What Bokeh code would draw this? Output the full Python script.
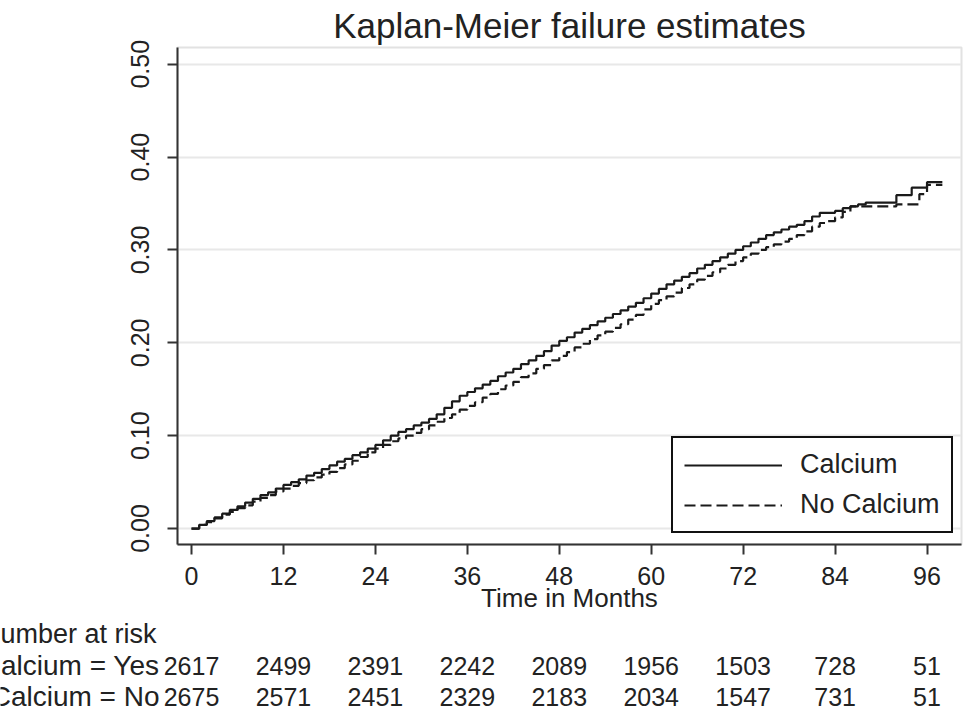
from bokeh.plotting import figure
from bokeh.models import Range1d, FixedTicker, Legend, LegendItem
from bokeh.core.properties import value
from bokeh.embed import file_html
from bokeh.resources import INLINE

# ---------------- data ----------------
months = list(range(0, 99))
calcium = [
    0.000, 0.004, 0.008, 0.012, 0.016, 0.020, 0.024, 0.028, 0.032, 0.036,
    0.039, 0.043, 0.047, 0.050, 0.053, 0.057, 0.060, 0.064, 0.068, 0.072,
    0.075, 0.079, 0.082, 0.086, 0.090, 0.095, 0.100, 0.104, 0.107, 0.111,
    0.114, 0.118, 0.123, 0.130, 0.137, 0.143, 0.147, 0.151, 0.155, 0.159,
    0.164, 0.168, 0.172, 0.177, 0.181, 0.186, 0.191, 0.197, 0.202, 0.206,
    0.211, 0.215, 0.219, 0.223, 0.227, 0.231, 0.235, 0.239, 0.243, 0.248,
    0.253, 0.258, 0.263, 0.267, 0.271, 0.275, 0.280, 0.284, 0.288, 0.292,
    0.296, 0.300, 0.304, 0.308, 0.312, 0.316, 0.319, 0.322, 0.325, 0.327,
    0.331, 0.336, 0.340, 0.340, 0.342, 0.345, 0.347, 0.349, 0.351, 0.351,
    0.351, 0.351, 0.359, 0.359, 0.367, 0.367, 0.373, 0.373, 0.373,
]
no_calcium = [
    0.000, 0.004, 0.007, 0.011, 0.015, 0.018, 0.022, 0.025, 0.029, 0.033,
    0.036, 0.040, 0.043, 0.046, 0.049, 0.052, 0.055, 0.058, 0.061, 0.065,
    0.069, 0.073, 0.077, 0.082, 0.086, 0.090, 0.094, 0.097, 0.100, 0.103,
    0.107, 0.111, 0.115, 0.119, 0.123, 0.128, 0.132, 0.136, 0.141, 0.145,
    0.150, 0.154, 0.158, 0.163, 0.167, 0.172, 0.176, 0.181, 0.186, 0.190,
    0.195, 0.199, 0.204, 0.208, 0.212, 0.216, 0.220, 0.225, 0.230, 0.236,
    0.242, 0.246, 0.250, 0.254, 0.259, 0.263, 0.268, 0.272, 0.276, 0.280,
    0.284, 0.288, 0.292, 0.296, 0.300, 0.303, 0.306, 0.309, 0.312, 0.316,
    0.320, 0.325, 0.329, 0.331, 0.335, 0.341, 0.347, 0.347, 0.347, 0.347,
    0.347, 0.347, 0.349, 0.349, 0.349, 0.360, 0.370, 0.370, 0.370,
]
x_ticks = [0, 12, 24, 36, 48, 60, 72, 84, 96]
y_ticks = [0.0, 0.1, 0.2, 0.3, 0.4, 0.5]
y_tick_labels = ["0.00", "0.10", "0.20", "0.30", "0.40", "0.50"]
risk_times = [0, 12, 24, 36, 48, 60, 72, 84, 96]
risk_yes = [2617, 2499, 2391, 2242, 2089, 1956, 1503, 728, 51]
risk_no = [2675, 2571, 2451, 2329, 2183, 2034, 1547, 731, 51]
series_names = ["Calcium", "No Calcium"]
risk_title = "Number at risk"
row_labels = ["Calcium = Yes", "Calcium = No"]

FONT = "Liberation Sans"
INK = "#222222"

# ---------------- main plot ----------------
W = 968
H_TOP = 615
F_LEFT, F_RIGHT, F_TOP, F_BOTTOM = 177, 961, 46, 544
X0, X1 = -1.83, 100.5

p = figure(width=W, height=H_TOP, output_backend="svg", toolbar_location=None,
           x_range=Range1d(X0, X1), y_range=Range1d(-0.0172, 0.518),
           min_border_left=F_LEFT, min_border_right=W - F_RIGHT,
           min_border_top=F_TOP, min_border_bottom=H_TOP - F_BOTTOM,
           background_fill_color="white", border_fill_color="white")

p.title.text = "Kaplan-Meier failure estimates"
p.title.align = "center"
p.title.text_font = FONT
p.title.text_font_size = "35px"
p.title.text_font_style = "normal"
p.title.text_color = INK
p.title.standoff = 6

p.outline_line_color = "#e2e2e2"
p.outline_line_width = 2

p.xgrid.visible = False
p.ygrid.ticker = FixedTicker(ticks=y_ticks)
p.ygrid.grid_line_color = "#e8e8e8"
p.ygrid.grid_line_width = 2

for ax in (p.xaxis[0], p.yaxis[0]):
    ax.axis_line_color = "#333333"
    ax.axis_line_width = 2
    ax.major_tick_line_color = "#333333"
    ax.major_tick_line_width = 2
    ax.major_tick_out = 10
    ax.major_tick_in = 0
    ax.minor_tick_line_color = None
    ax.major_label_text_font = FONT
    ax.major_label_text_font_size = "25px"
    ax.major_label_text_color = INK

p.xaxis.ticker = FixedTicker(ticks=x_ticks)
p.xaxis.major_label_standoff = 12
p.xaxis.axis_label = "Time in Months"
p.xaxis.axis_label_text_font = FONT
p.xaxis.axis_label_text_font_size = "26px"
p.xaxis.axis_label_text_font_style = "normal"
p.xaxis.axis_label_text_color = INK
p.xaxis.axis_label_standoff = -5

p.yaxis.ticker = FixedTicker(ticks=y_ticks)
p.yaxis.major_label_overrides = {t: l for t, l in zip(y_ticks, y_tick_labels)}
p.yaxis.major_label_orientation = "vertical"
p.yaxis.major_label_standoff = 18

r1 = p.step(months, calcium, mode="after", line_color="#1a1a1a", line_width=2.2)
r2 = p.step(months, no_calcium, mode="after", line_color="#1a1a1a", line_width=2.2,
            line_dash="11 5")

legend = Legend(items=[LegendItem(label=series_names[0], renderers=[r1]),
                       LegendItem(label=series_names[1], renderers=[r2])],
                location=(671 - F_LEFT, F_BOTTOM - 533),
                orientation="vertical", margin=0, padding=11, spacing=9,
                glyph_width=98, glyph_height=28, label_height=28,
                label_standoff=18,
                label_text_font=FONT, label_text_font_size="27px",
                label_text_color=INK,
                border_line_color="#111111", border_line_width=2,
                border_line_alpha=1.0,
                background_fill_color="white", background_fill_alpha=1.0)
p.add_layout(legend)

# ---------------- number-at-risk table (separate root, same month scale) ----------------
H_BOT = 713 - H_TOP
TOP_Y = H_TOP                 # page y of the table figure's top edge
kx = (F_RIGHT - F_LEFT) / (X1 - X0)          # px per month
tx0 = X0 - F_LEFT / kx
tx1 = X1 + (W - F_RIGHT) / kx

t = figure(width=W, height=H_BOT, output_backend="svg", toolbar_location=None,
           title=None,
           x_range=Range1d(tx0, tx1), y_range=Range1d(H_BOT, 0),
           min_border=0, min_border_left=0, min_border_right=0,
           min_border_top=0, min_border_bottom=0,
           background_fill_color="white", border_fill_color="white")
t.axis.visible = False
t.grid.visible = False
t.outline_line_color = None

# vertical centres of the three text lines (page px)
head_y = 633 - TOP_Y
row1_y = 665 - TOP_Y
row2_y = 696 - TOP_Y


def px_to_month(px):
    return tx0 + px / kx


t.text(x=[px_to_month(-19.5)], y=[head_y], text=[risk_title],
       text_align="left", text_baseline="middle",
       text_font=value(FONT), text_font_size="27px", text_color=INK)
lab_x = px_to_month(159)
t.text(x=[lab_x, lab_x], y=[row1_y, row2_y], text=row_labels,
       text_align="right", text_baseline="middle",
       text_font=value(FONT), text_font_size="28px", text_color=INK)
t.text(x=risk_times, y=[row1_y] * len(risk_times), text=[str(v) for v in risk_yes],
       text_align="center", text_baseline="middle",
       text_font=value(FONT), text_font_size="25px", text_color=INK)
t.text(x=risk_times, y=[row2_y] * len(risk_times), text=[str(v) for v in risk_no],
       text_align="center", text_baseline="middle",
       text_font=value(FONT), text_font_size="25px", text_color=INK)

open("out.html", "w").write(file_html([p, t], INLINE))
